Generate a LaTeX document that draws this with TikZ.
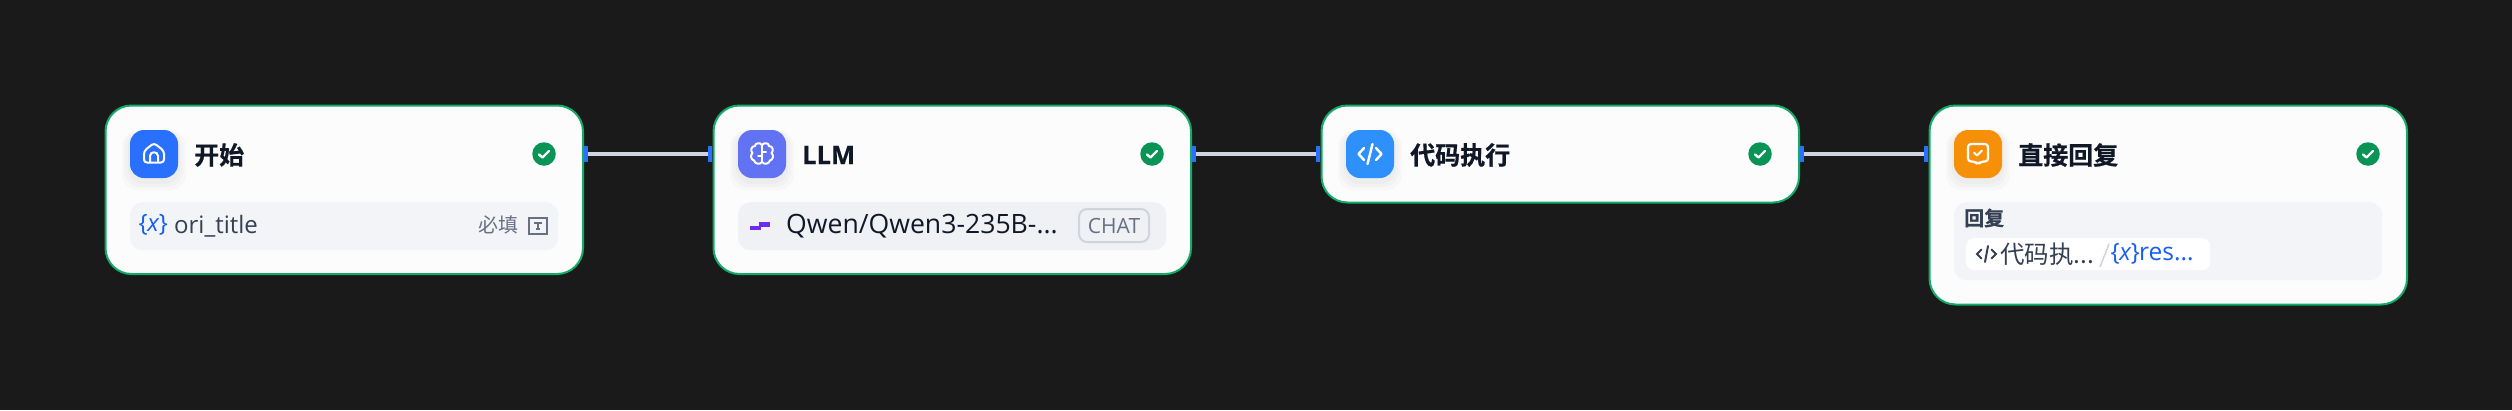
\documentclass[tikz,border=0pt]{standalone}
\usepackage{fontspec}
\setmainfont{Open Sans}
\newfontfamily\cjk{Noto Sans CJK SC}
\newfontfamily\cjkb[FakeBold=0.6]{Noto Sans CJK SC Bold}
\newfontfamily\latb[FakeBold=0.5]{Open Sans Bold}
\definecolor{bgc}{HTML}{1A1A1A}
\definecolor{cardc}{HTML}{FCFCFD}
\definecolor{edgec}{HTML}{12AC68}
\definecolor{rowc}{HTML}{F2F4F7}
\definecolor{rowd}{HTML}{EFF1F5}
\definecolor{titlec}{HTML}{101828}
\definecolor{handlec}{HTML}{2970FF}
\definecolor{linec}{HTML}{D0D5DD}
\definecolor{okc}{HTML}{079455}
\definecolor{grayt}{HTML}{667085}
\definecolor{darkt}{HTML}{354054}
\definecolor{bluet}{HTML}{155EEF}
\definecolor{iconA}{HTML}{2970FF}
\definecolor{iconB}{HTML}{6172F3}
\definecolor{iconC}{HTML}{2E90FA}
\definecolor{iconD}{HTML}{F79009}
\definecolor{purp}{HTML}{6F2BF0}
\tikzset{
  x=1pt,y=-1pt,
  card/.style={draw=edgec,line width=2pt,fill=cardc,rounded corners=26pt,inner sep=0pt,minimum width=477.5pt,anchor=north west},
  iconbox/.style={rounded corners=14pt,minimum width=48pt,minimum height=48pt,inner sep=0pt,draw=none},
  rowbox/.style={fill=rowc,rounded corners=12pt,inner sep=0pt,minimum width=428pt,anchor=north west,draw=none},
  handle/.style={fill=handlec,draw=none,minimum width=4pt,minimum height=16pt,inner sep=0pt},
  conn/.style={draw=linec,line width=4pt},
  title/.style={anchor=west,inner sep=0pt,text=titlec,font=\cjkb\fontsize{25}{25}\selectfont},
  okdot/.style={circle,fill=okc,minimum size=23.5pt,inner sep=0pt,draw=none},
  iconline/.style={draw=white,line width=2pt,line cap=round,line join=round},
  txt/.style={anchor=west,inner sep=0pt},
}
\newcommand{\iconshadow}[1]{%
  \foreach \s in {9,6,3}{\fill[black,opacity=0.018,rounded corners=16pt] ($(#1.north west)+(-\s+1,1)$) rectangle ($(#1.south east)+(\s-1,\s+3)$);}}
\newcommand{\okmark}[1]{\draw[white,line width=2.4pt,line cap=round,line join=round] ($(#1)+(-5,0.5)$) -- ($(#1)+(-1.5,3.5)$) -- ($(#1)+(5,-3)$);}
\newcommand{\varmark}{{\fontsize{24}{24}\selectfont\{\kern-0.5pt\textit{x}\kern-0.5pt\}}}
\usetikzlibrary{calc}
\begin{document}
\begin{tikzpicture}
\useasboundingbox (0,0) rectangle (2512,410);
\fill[bgc] (0,0) rectangle (2512,410);
% cards
\node[card,minimum height=168.5pt] (n1) at (104.5,104.5) {};
\node[card,minimum height=168.5pt] (n2) at (712.5,104.5) {};
\node[card,minimum height=97pt] (n3) at (1320.5,104.5) {};
\node[card,minimum height=199pt] (n4) at (1928.5,104.5) {};
% handles
\node[handle] (h1r) at (586,154) {};
\node[handle] (h2l) at (710,154) {};
\node[handle] (h2r) at (1194,154) {};
\node[handle] (h3l) at (1318,154) {};
\node[handle] (h3r) at (1802,154) {};
\node[handle] (h4l) at (1926,154) {};
\draw[conn] (h1r.east) -- (h2l.west);
\draw[conn] (h2r.east) -- (h3l.west);
\draw[conn] (h3r.east) -- (h4l.west);
% icon boxes
\node[iconbox] (i1g) at (154,154) {};
\node[iconbox] (i2g) at (762,154) {};
\node[iconbox] (i3g) at (1370,154) {};
\node[iconbox] (i4g) at (1978,154) {};
\iconshadow{i1g}\iconshadow{i2g}\iconshadow{i3g}\iconshadow{i4g}
\node[iconbox,fill=iconA] (i1) at (154,154) {};
\node[iconbox,fill=iconB] (i2) at (762,154) {};
\node[iconbox,fill=iconC] (i3) at (1370,154) {};
\node[iconbox,fill=iconD] (i4) at (1978,154) {};
% home icon
\begin{scope}[shift={(154,154)}]
\draw[iconline,rounded corners=3pt] (-10,-3) -- (0,-11) -- (10,-3) -- (10,8.5) -- (-10,8.5) -- cycle;
\draw[iconline] (-4,8) -- (-4,2) .. controls (-4,-3) and (4,-3) .. (4,2) -- (4,8);
\end{scope}
% brain icon
\begin{scope}[shift={(762,154)}]
\draw[iconline] (0,-9) .. controls (-2,-12) and (-7,-11) .. (-7,-8)
 .. controls (-11,-8) and (-12,-3) .. (-9.5,-1)
 .. controls (-12,1) and (-11,6) .. (-8,6.5)
 .. controls (-7,10) and (-2,11) .. (0,8)
 .. controls (2,11) and (7,10) .. (8,6.5)
 .. controls (11,6) and (12,1) .. (9.5,-1)
 .. controls (12,-3) and (11,-8) .. (7,-8)
 .. controls (7,-11) and (2,-12) .. (0,-9) -- cycle;
\draw[iconline] (0,-9) -- (0,8);
\draw[iconline] (0,2) -- (-4,2);
\draw[iconline] (0,-2) -- (4,-2);
\end{scope}
% code icon
\begin{scope}[shift={(1370,154)}]
\draw[iconline,line width=2.4pt] (-6,-6) -- (-11.5,0) -- (-6,6);
\draw[iconline,line width=2.4pt] (6,-6) -- (11.5,0) -- (6,6);
\draw[iconline,line width=2.4pt] (2.5,-10) -- (-2.5,10);
\end{scope}
% reply icon
\begin{scope}[shift={(1978,154)}]
\draw[iconline,line width=2.2pt,rounded corners=3pt] (-10,-10) -- (10,-10) -- (10,7.5) -- (3,7.5) -- (0,10.5) -- (-3,7.5) -- (-10,7.5) -- cycle;
\draw[iconline] (-4,-1.5) -- (-1,1.5) -- (4,-3.5);
\end{scope}
% titles
\node[title] (t1) at (194,155) {开始};
\node[title,font=\latb\fontsize{25.5}{25}\selectfont] (t2) at (802,155) {LLM};
\node[title] (t3) at (1410,155) {代码执行};
\node[title] (t4) at (2018,155) {直接回复};
% status
\node[okdot] (k1) at (544,154) {}; \okmark{k1}
\node[okdot] (k2) at (1152,154) {}; \okmark{k2}
\node[okdot] (k3) at (1760,154) {}; \okmark{k3}
\node[okdot] (k4) at (2368,154) {}; \okmark{k4}
% row 1
\node[rowbox,minimum height=48pt] (r1) at (130,202) {};
\node[txt,text=bluet] (v1) at (138.5,225) {\varmark};
\node[txt,text=darkt,font=\fontsize{24}{24}\selectfont] (l1) at (174,226) {ori\_title};
\node[txt,text=grayt,font=\cjk\fontsize{20}{20}\selectfont] (l2) at (478,225) {必填};
\node[draw=grayt,line width=2pt,minimum width=18pt,minimum height=16pt,inner sep=0pt] (tb) at (538,226) {};
\draw[grayt,line width=2pt] ($(tb)+(-4,-3)$) -- ($(tb)+(4,-3)$) ($(tb)+(0,-3)$) -- ($(tb)+(0,3)$) ($(tb)+(-2,3)$) -- ($(tb)+(2,3)$);
% row 2
\node[rowbox,fill=rowd,minimum height=48pt] (r2) at (738,202) {};
\fill[purp] (759,222) rectangle (770,226.5);
\fill[purp] (750,226) rectangle (761,230);
\node[txt,text=titlec,font=\fontsize{26.6}{26}\selectfont] (l3) at (786,226) {Qwen/Qwen3-235B-...};
\node[draw=linec,line width=2pt,rounded corners=8pt,minimum width=70pt,minimum height=33pt,inner sep=0pt,text=grayt,font=\fontsize{21}{21}\selectfont] (b1) at (1114,225.5) {CHAT};
% row 4
\node[rowbox,minimum height=78pt] (r4) at (1954,202) {};
\node[txt,text=darkt,font=\cjkb\fontsize{20}{20}\selectfont] (l4) at (1964,218) {回复};
\node[fill=white,rounded corners=8pt,minimum width=244pt,minimum height=32pt,inner sep=0pt,draw=none,anchor=north west] (c1) at (1966,238) {};
\begin{scope}[shift={(1986,254)}]
\draw[darkt,line width=2pt,line cap=round] (-4.5,-4.5) -- (-9,0) -- (-4.5,4.5);
\draw[darkt,line width=2pt,line cap=round] (5.5,-4.5) -- (10,0) -- (5.5,4.5);
\draw[darkt,line width=2pt,line cap=round] (2,-8) -- (-1,8);
\end{scope}
\node[txt,text=darkt,font=\cjk\fontsize{24.5}{25}\selectfont] (l5) at (2000,254) {代码执...};
\node[inner sep=0pt,draw=none,minimum size=1pt] (sl) at (2104,256) {};
\draw[linec,line width=1.5pt] ($(sl)+(5,-12)$) -- ($(sl)+(-4,11)$);
\node[txt,text=bluet] (v2) at (2110.5,254) {\varmark};
\node[txt,text=bluet,font=\fontsize{24.5}{25}\selectfont] (l6) at (2139,254) {res...};
\end{tikzpicture}
\end{document}
